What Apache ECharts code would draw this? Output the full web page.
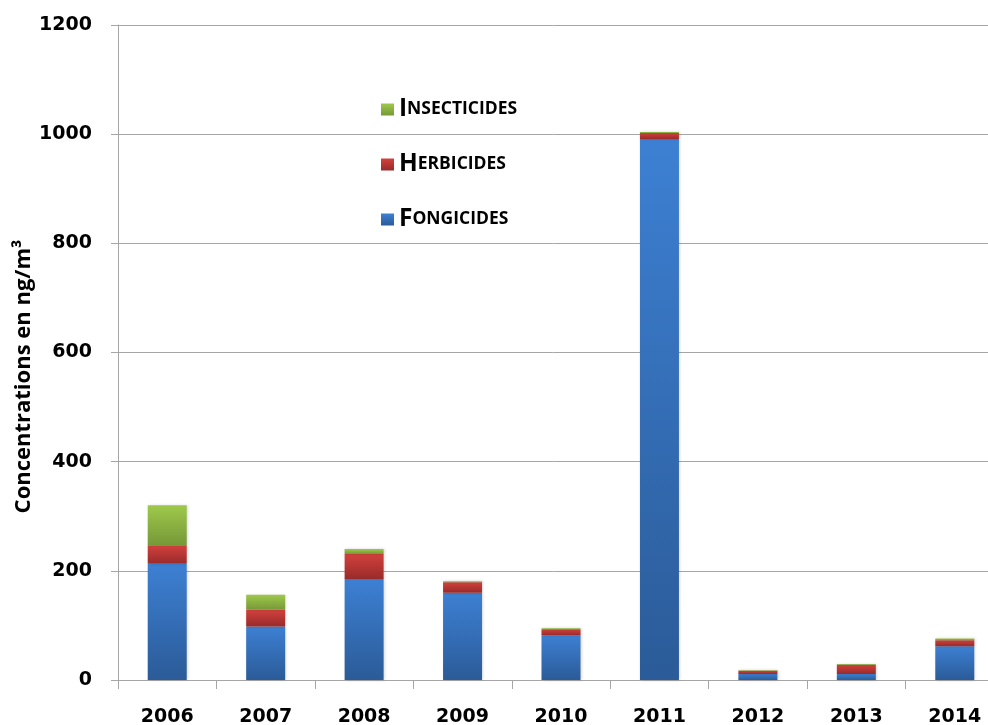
<!DOCTYPE html>
<html>
<head>
<meta charset="utf-8">
<script src="https://cdn.jsdelivr.net/npm/echarts@6/dist/echarts.min.js"></script>
<style>
  html, body { margin: 0; padding: 0; background: #ffffff; }
  #chart { width: 988px; height: 725px; }
</style>
</head>
<body>
<div id="chart"></div>
<script>
// Annual pesticide concentrations in air, by family (ng/m³)
const years = ['2006', '2007', '2008', '2009', '2010', '2011', '2012', '2013', '2014'];
const fongicides   = [213, 98, 185, 160, 82, 991, 11, 11, 62];
const herbicides   = [34, 31, 46, 19, 11, 11, 6, 17, 11];
const insecticides = [73, 27, 9, 2, 2, 2, 1, 1.5, 3];
const yTicks = { min: 0, max: 1200, interval: 200 };

const TEXT_FONT = '"Open Sans"';
const NUM_FONT = '"DejaVu Sans"';
const gridColor = '#a6a6a6';

function grad(top, bottom) {
  return new echarts.graphic.LinearGradient(0, 0, 0, 1, [
    { offset: 0, color: top },
    { offset: 1, color: bottom }
  ]);
}

const barStyle = (top, bottom) => ({
  color: grad(top, bottom),
  shadowColor: 'rgba(0,0,0,0.18)',
  shadowBlur: 3,
  shadowOffsetX: 1
});

const chart = echarts.init(document.getElementById('chart'), null, { renderer: 'canvas' });

chart.setOption({
  animation: false,
  backgroundColor: '#ffffff',
  grid: {
    left: 118, top: 25, width: 886, height: 655,
    containLabel: false,
    outerBoundsMode: 'none'
  },
  legend: {
    orient: 'vertical',
    left: 376,
    top: 92,
    itemWidth: 13,
    itemHeight: 12,
    itemGap: 30,
    icon: 'rect',
    data: ['Insecticides', 'Herbicides', 'Fongicides'],
    formatter: name => '{a|' + name.charAt(0).toUpperCase() + '}{b|' + name.slice(1).toUpperCase() + '}',
    textStyle: {
      fontFamily: TEXT_FONT,
      fontWeight: 'bold',
      color: '#000',
      rich: {
        a: { fontFamily: TEXT_FONT, fontWeight: 'bold', fontSize: 24.5, lineHeight: 26, color: '#000' },
        b: { fontFamily: TEXT_FONT, fontWeight: 'bold', fontSize: 17.5, lineHeight: 26, color: '#000' }
      }
    }
  },
  xAxis: {
    type: 'category',
    data: years,
    boundaryGap: true,
    axisLine: { show: true, lineStyle: { color: gridColor, width: 1 } },
    axisTick: { show: true, interval: 0, alignWithLabel: false, length: 9, lineStyle: { color: gridColor } },
    axisLabel: { interval: 0, margin: 28, fontFamily: NUM_FONT, fontWeight: 'bold', fontSize: 19, color: '#000' }
  },
  yAxis: {
    type: 'value',
    min: yTicks.min,
    max: yTicks.max,
    interval: yTicks.interval,
    name: 'Concentrations en ng/m³',
    nameLocation: 'middle',
    nameGap: 83,
    nameMoveOverlap: false,
    nameRotate: 90,
    nameTextStyle: { fontFamily: TEXT_FONT, fontWeight: 'bold', fontSize: 22, color: '#000', padding: [0, 48, 0, 0] },
    axisLine: { show: true, lineStyle: { color: gridColor, width: 1 } },
    axisTick: { show: true, inside: false, length: 7, lineStyle: { color: gridColor } },
    splitLine: { show: true, lineStyle: { color: gridColor, width: 1 } },
    axisLabel: {
      margin: 26,
      fontFamily: NUM_FONT, fontWeight: 'bold', fontSize: 19, color: '#000',
      formatter: v => String(v)
    }
  },
  series: [
    {
      name: 'Fongicides', type: 'bar', stack: 'total', barWidth: 39,
      data: fongicides,
      itemStyle: barStyle('#3d80d3', '#2b5b98')
    },
    {
      name: 'Herbicides', type: 'bar', stack: 'total', barWidth: 39,
      data: herbicides,
      itemStyle: barStyle('#d3413d', '#982b2b')
    },
    {
      name: 'Insecticides', type: 'bar', stack: 'total', barWidth: 39,
      data: insecticides,
      itemStyle: barStyle('#9ec94b', '#779838')
    }
  ]
});
</script>
</body>
</html>
